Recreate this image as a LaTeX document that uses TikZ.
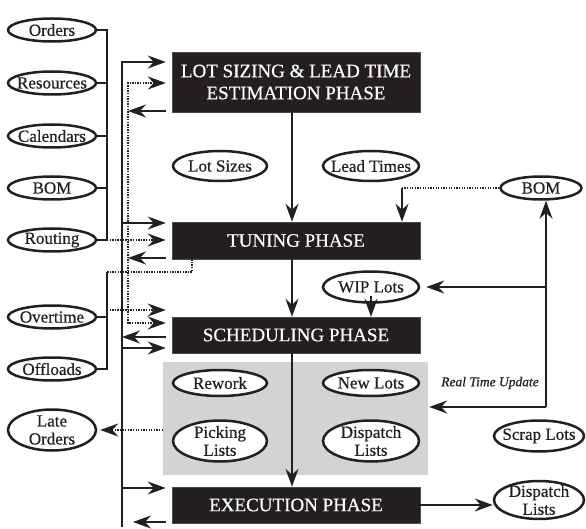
\documentclass[tikz,border=0pt]{standalone}
\usepackage{fontspec}
\setmainfont[FakeBold=0.5]{Liberation Serif}
\usetikzlibrary{arrows.meta,shapes.geometric}
\definecolor{boxblack}{HTML}{231F20}
\definecolor{panelgray}{HTML}{D1D3D4}
\newcommand{\ellipsefont}{\fontsize{17}{18}\selectfont}
\newcommand{\phasefont}{\fontsize{19}{22}\selectfont}
\begin{document}
\begin{tikzpicture}[x=1pt,y=-1pt,
  >={Stealth[length=18pt,width=13pt,inset=6pt]},
  phase/.style={draw=black!70, line width=0.5pt, fill=boxblack, text=white,
    font=\phasefont, align=center, inner sep=0pt, minimum width=248pt},
  data/.style n args={3}{ellipse, draw=boxblack, line width=2.5pt, fill=white,
    inner sep=0pt, minimum width=#1, minimum height=#2,
    label={[align=center, font=\ellipsefont, text=boxblack]center:#3}},
  conn/.style={line width=1.4pt, draw=boxblack},
  dotline/.style={line width=1.3pt, draw=boxblack, dash pattern=on 1.3pt off 1.3pt}]

\fill[white] (0,0) rectangle (586,529);
\useasboundingbox (0,0) rectangle (586,529);

% bus positions
\coordinate (lbus) at (107,0);
\coordinate (vbus) at (122,0);
\coordinate (dbus) at (128,0);
\coordinate (spine) at (292,0);
\coordinate (rbus) at (546,0);

% shaded panel of scheduling outputs
\node[fill=panelgray, inner sep=0pt, minimum width=265pt, minimum height=113pt] (panel) at (295.5,418.5) {};

% phases
\node[phase, minimum height=60pt] (lot) at (296,82) {LOT SIZING \& LEAD TIME\\ESTIMATION PHASE};
\node[phase, minimum height=37pt] (tune) at (296,240.5) {TUNING PHASE};
\node[phase, minimum height=36pt] (sched) at (296,335) {SCHEDULING PHASE};
\node[phase, minimum height=36pt] (exec) at (296,505) {EXECUTION PHASE};

% input data
\node[data={88pt}{23pt}{Orders}] (orders) at (52,30) {};
\node[data={88pt}{23pt}{Resources}] (resources) at (52,83) {};
\node[data={88pt}{23pt}{Calendars}] (calendars) at (52,136) {};
\node[data={88pt}{23pt}{BOM}] (bom) at (52,188) {};
\node[data={88pt}{23pt}{Routing}] (routing) at (52,240) {};
\node[data={88pt}{23pt}{Overtime}] (overtime) at (52,317) {};
\node[data={88pt}{23pt}{Offloads}] (offloads) at (52,369) {};
\node[data={88pt}{41pt}{Late\\Orders}] (late) at (52,430) {};

% intermediate data
\node[data={94pt}{30pt}{Lot Sizes}] (lotsizes) at (220,166) {};
\node[data={96pt}{30pt}{Lead Times}] (leadtimes) at (371,166) {};
\node[data={96pt}{31pt}{WIP Lots}] (wip) at (371,287) {};
\node[data={94pt}{26pt}{Rework}] (rework) at (220,383) {};
\node[data={96pt}{26pt}{New Lots}] (newlots) at (371,383) {};
\node[data={94pt}{41pt}{Picking\\Lists}] (picking) at (220,441) {};
\node[data={96pt}{41pt}{Dispatch\\Lists}] (dispatch) at (371,441) {};

% shop-floor data
\node[data={81pt}{23pt}{BOM}] (bomr) at (541,188) {};
\node[data={90pt}{31pt}{Scrap Lots}] (scrap) at (539,436) {};
\node[data={90pt}{38pt}{Dispatch\\Lists}] (dispr) at (539,500) {};

\node[font=\fontsize{13.5}{15}\selectfont\itshape, text=boxblack] (rtu) at (490,383) {Real Time Update};

% left input bus
\draw[conn] (orders.east) -| (lbus |- routing.east) -- (routing.east);
\foreach \n in {resources,calendars,bom}
  \draw[conn] (\n.east) -- (\n.east -| lbus);
\draw[dotline, ->, shorten >=6pt] (routing.east -| lbus) -- (tune.west |- routing.east);

% main feedback bus
\draw[conn, ->, shorten >=6pt] (vbus |- 0,527) |- (lot.west |- 0,62);
\draw[conn, <-, shorten >=6pt] (dbus |- 0,111) -- (lot.west |- 0,111);
\draw[conn, ->, shorten >=6pt] (vbus |- 0,223) -- (tune.west |- 0,223);
\draw[conn, <-, shorten >=6pt] (dbus |- 0,258) -- (tune.west |- 0,258);
\draw[conn, <-, shorten >=6pt] (vbus |- 0,337) -- (sched.west |- 0,337);
\draw[conn, ->, shorten >=6pt] (vbus |- 0,348) -- (sched.west |- 0,348);
\draw[conn, ->, shorten >=6pt] (vbus |- 0,488) -- (exec.west |- 0,488);
\coordinate (execret) at (133,522);
\draw[conn, <-, shorten >=6pt] (execret) -- (exec.west |- execret);

% dotted loop between lot sizing and scheduling
\draw[dotline, <->, shorten <=6pt, shorten >=6pt]
  (lot.west |- 0,83) -- (dbus |- 0,83) -- (dbus |- 0,323) -- (sched.west |- 0,323);

% tuning feeds overtime / offloads bus
\draw[dotline] (tune.south -| 192,0) -- (192,272) -- (lbus |- 0,272);
\draw[conn] (lbus |- 0,272) -- (lbus |- offloads.east) -- (offloads.east);
\draw[conn] (overtime.east) -- (overtime.east -| lbus);
\draw[dotline, ->, shorten >=6pt] (lbus |- 0,310) -- (sched.west |- 0,310);

% late orders
\draw[dotline, ->, shorten >=3pt] (panel.west |- late.east) -- (late.east);

% phase sequence
\draw[conn, ->] (lot.south -| spine) -- (tune.north -| spine);
\draw[conn, ->] (tune.south -| spine) -- (sched.north -| spine);
\draw[conn, ->] (sched.south -| spine) -- (exec.north -| spine);
\draw[conn, ->] ([yshift=8pt]wip.south) -- (sched.north -| wip.south);

% right side: BOM and real time update
\coordinate (ltap) at (402,188);
\draw[dotline] (bomr.west) -- (ltap);
\draw[conn, ->] (ltap) -- (tune.north -| ltap);
\draw[conn, ->] (rbus |- 0,407) -- (rbus |- bomr.south);
\draw[conn, ->, shorten >=6pt] (rbus |- wip.east) -- (wip.east);
\draw[conn, ->, shorten >=1pt] (rbus |- 0,407) -- (panel.east |- 0,407);
\draw[conn, ->] (exec.east) -- (exec.east -| dispr.west);
\end{tikzpicture}
\end{document}
